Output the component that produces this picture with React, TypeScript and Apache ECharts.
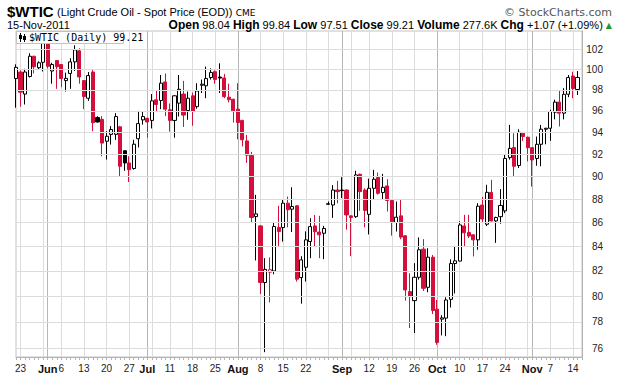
import { useEffect, useRef } from 'react';
import * as echarts from 'echarts';

// ---- categories: trading days (2011) ----
const tradingMonths = [5, 6, 7, 8, 9, 10, 11];
const tradingDays = [
  [20, 23, 24, 25, 26, 27, 31],
  [1, 2, 3, 6, 7, 8, 9, 10, 13, 14, 15, 16, 17, 20, 21, 22, 23, 24, 27, 28, 29, 30],
  [1, 5, 6, 7, 8, 11, 12, 13, 14, 15, 18, 19, 20, 21, 22, 25, 26, 27, 28, 29],
  [1, 2, 3, 4, 5, 8, 9, 10, 11, 12, 15, 16, 17, 18, 19, 22, 23, 24, 25, 26, 29, 30, 31],
  [1, 2, 6, 7, 8, 9, 12, 13, 14, 15, 16, 19, 20, 21, 22, 23, 26, 27, 28, 29, 30],
  [3, 4, 5, 6, 7, 10, 11, 12, 13, 14, 17, 18, 19, 20, 21, 24, 25, 26, 27, 28, 31],
  [1, 2, 3, 4, 7, 8, 9, 10, 11, 14, 15],
];
const dates: string[] = [];
tradingMonths.forEach((m, k) =>
  tradingDays[k].forEach((d) =>
    dates.push(`2011-${String(m).padStart(2, '0')}-${String(d).padStart(2, '0')}`)
  )
);

// ---- series values ----
const opens = [
  99.1, 99.74, 97.6, 99.3, 101.3, 100.16, 100.7, 102.7, 99.84, 100.87,
  100.48, 98.9, 99.6, 100.74, 101.84, 98.9, 97.2, 99.74, 95.37, 95.2,
  93.17, 93.8, 93.8, 94.5, 92.3, 91.2, 90.7, 93.4, 95.15, 95.3,
  95.1, 97.05, 96.98, 98.77, 96.1, 95.1, 96.73, 97.6, 96.03, 97.43,
  96.4, 98.45, 98.4, 99.2, 99.77, 99.25, 99.16, 97.3, 97.1, 96.16,
  95.1, 93.2, 91.9, 86.51, 85.72, 81.07, 81.9, 82.0, 85.58, 85.58,
  87.66, 87.14, 87.43, 81.47, 82.3, 84.41, 85.72, 85.2, 85.1, 87.6,
  87.5, 88.8, 88.8, 88.8, 86.57, 86.5, 90.19, 88.8, 86.7, 88.95,
  89.9, 88.58, 89.16, 87.89, 86.0, 86.57, 84.89, 80.35, 79.64, 81.49,
  83.78, 80.69, 83.12, 78.97, 78.2, 78.28, 79.74, 82.6, 82.8, 85.71,
  85.17, 84.97, 84.55, 87.5, 85.86, 88.59, 86.14, 86.5, 87.0, 91.68,
  92.6, 90.97, 93.9, 93.54, 92.58, 91.6, 92.89, 94.28, 94.37, 95.87,
  96.83, 95.78, 97.58, 99.35, 98.04,
];
const highs = [
  100.5, 99.9, 100.06, 101.6, 101.35, 100.8, 102.8, 102.75, 100.65, 100.9,
  100.5, 99.68, 101.1, 102.4, 102.1, 98.95, 99.74, 100.0, 95.5, 95.5,
  94.1, 94.57, 95.78, 94.6, 92.35, 91.8, 93.3, 96.0, 95.9, 95.35,
  97.6, 97.9, 99.45, 99.6, 96.7, 97.5, 99.45, 98.87, 97.84, 97.74,
  98.65, 99.0, 100.27, 100.1, 99.9, 100.6, 99.55, 98.6, 97.15, 98.65,
  95.15, 93.75, 92.2, 88.38, 85.8, 83.04, 83.1, 86.0, 87.43, 88.0,
  88.23, 89.04, 87.5, 83.2, 85.26, 86.37, 86.65, 86.57, 85.72, 87.8,
  89.23, 89.6, 89.93, 88.85, 86.6, 90.5, 90.25, 88.95, 89.8, 90.58,
  90.34, 90.22, 89.75, 87.95, 87.8, 88.0, 84.95, 81.81, 82.63, 84.75,
  84.61, 83.86, 83.3, 79.69, 78.5, 79.9, 82.94, 84.05, 86.1, 86.66,
  86.66, 85.0, 87.66, 88.2, 89.26, 89.7, 86.5, 88.88, 91.97, 94.68,
  93.9, 94.28, 93.95, 93.6, 92.6, 93.6, 94.68, 94.4, 96.1, 97.06,
  97.9, 98.16, 99.45, 99.77, 99.84,
];
const lows = [
  96.3, 96.4, 96.6, 99.2, 99.6, 100.0, 99.8, 100.1, 98.6, 98.1,
  98.25, 97.84, 98.1, 99.84, 98.6, 96.16, 96.95, 94.1, 94.9, 91.8,
  91.5, 92.86, 93.3, 90.0, 90.5, 89.5, 90.6, 92.6, 94.7, 93.5,
  94.35, 95.9, 96.16, 95.5, 94.06, 93.5, 95.47, 94.5, 95.16, 94.6,
  96.2, 97.7, 97.2, 99.0, 98.6, 97.7, 97.2, 96.8, 94.9, 93.35,
  92.7, 91.2, 86.0, 82.85, 80.16, 75.7, 79.5, 81.73, 84.0, 84.4,
  85.6, 85.2, 81.15, 79.4, 81.15, 83.04, 84.0, 83.04, 82.96, 87.5,
  86.4, 87.65, 88.1, 85.4, 83.2, 86.4, 87.0, 85.6, 85.0, 88.0,
  88.4, 87.94, 86.94, 84.9, 85.25, 84.6, 79.64, 77.52, 77.14, 81.3,
  80.4, 80.3, 78.6, 76.25, 76.96, 76.9, 79.1, 80.2, 82.8, 84.0,
  84.7, 83.18, 83.73, 86.0, 85.7, 86.1, 84.3, 85.9, 86.8, 91.5,
  90.0, 90.75, 93.2, 91.34, 89.1, 90.95, 90.9, 92.89, 93.2, 95.2,
  94.53, 95.2, 97.3, 97.2, 97.51,
];
const closes = [
  100.2, 97.78, 99.74, 101.3, 100.26, 100.65, 102.7, 100.3, 100.48, 100.26,
  99.1, 99.12, 100.74, 101.94, 99.26, 97.36, 99.39, 94.89, 94.95, 93.0,
  93.63, 94.25, 95.46, 90.9, 91.2, 90.6, 92.9, 94.8, 95.46, 94.95,
  96.95, 96.6, 98.65, 96.16, 95.1, 97.43, 98.06, 95.6, 97.2, 95.94,
  97.9, 98.55, 99.1, 99.7, 99.0, 99.15, 97.35, 97.06, 96.0, 94.9,
  93.3, 91.9, 86.43, 86.74, 81.07, 82.13, 82.1, 85.67, 85.25, 87.66,
  87.09, 87.37, 81.34, 82.9, 84.55, 85.66, 85.23, 84.97, 85.5, 87.57,
  88.8, 88.66, 88.75, 86.65, 86.43, 90.13, 88.66, 87.03, 88.95, 89.75,
  88.52, 89.04, 87.89, 86.09, 86.46, 84.78, 80.48, 79.95, 81.49, 83.73,
  80.61, 83.12, 78.87, 76.43, 78.3, 79.69, 82.6, 82.82, 85.8, 85.14,
  84.87, 84.55, 87.4, 86.3, 88.6, 86.14, 86.43, 87.46, 91.6, 92.52,
  90.9, 94.0, 93.6, 92.58, 91.47, 92.89, 94.28, 94.37, 95.94, 96.83,
  95.78, 97.58, 99.2, 98.14, 99.21,
];

// ---- tick labels ----
const yTicks = [76, 78, 80, 82, 84, 86, 88, 90, 92, 94, 96, 98, 100, 102];
const xTickDates = [
  '2011-05-23', '2011-06-01', '2011-06-06', '2011-06-13', '2011-06-20', '2011-06-27',
  '2011-07-01', '2011-07-11', '2011-07-18', '2011-07-25', '2011-08-01', '2011-08-08',
  '2011-08-15', '2011-08-22', '2011-09-01', '2011-09-12', '2011-09-19', '2011-09-26',
  '2011-10-03', '2011-10-10', '2011-10-17', '2011-10-24', '2011-11-01', '2011-11-07',
  '2011-11-14',
];
const xTickTexts = [
  '23', 'Jun', '6', '13', '20', '27', 'Jul', '11', '18', '25', 'Aug', '8',
  '15', '22', 'Sep', '12', '19', '26', 'Oct', '10', '17', '24', 'Nov', '7', '14',
];
const monthNames = ['Jun', 'Jul', 'Aug', 'Sep', 'Oct', 'Nov'];

const RED = '#d3103b';
const BLACK = '#000000';
const SANS = "'Liberation Sans', Arial, sans-serif";

export default function App() {
  const ref = useRef<HTMLDivElement>(null);

  useEffect(() => {
    const el = ref.current;
    if (!el) return;
    const chart = echarts.init(el, undefined, { renderer: 'svg' });

    const parsed = dates.map((s) => new Date(s + 'T00:00:00Z'));
    const weekStart = dates.map(
      (_, i) =>
        i > 0 &&
        (parsed[i].getUTCDay() < parsed[i - 1].getUTCDay() ||
          parsed[i].getTime() - parsed[i - 1].getTime() >= 7 * 864e5)
    );
    const monthStart = dates.map(
      (_, i) => i > 0 && parsed[i].getUTCMonth() !== parsed[i - 1].getUTCMonth()
    );
    const cats = [...dates, ''];
    const labelAt = new Map<number, string>();
    xTickDates.forEach((d, k) => labelAt.set(dates.indexOf(d), xTickTexts[k]));

    const items = dates.map((_, i) => {
      const o = opens[i];
      const c = closes[i];
      const pc = i > 0 ? closes[i - 1] : o;
      const col = c < pc ? RED : BLACK;
      const fill = c > o ? '#ffffff' : col;
      return {
        value: [o, c, lows[i], highs[i]],
        itemStyle: {
          color: fill,
          color0: fill,
          borderColor: col,
          borderColor0: col,
          borderColorDoji: col,
        },
      };
    });

    const option: any = {
      animation: false,
      backgroundColor: '#ffffff',
      grid: {
        left: 16,
        top: 31,
        width: 566,
        height: 326,
        show: true,
        borderColor: '#c2c2c2',
        borderWidth: 1,
        containLabel: false,
      },
      xAxis: [
        {
          type: 'category',
          data: cats,
          boundaryGap: false,
          position: 'bottom',
          axisLine: { show: true, lineStyle: { color: '#b4b4b4' } },
          axisTick: { show: true, interval: 0, length: 3, lineStyle: { color: '#b4b4b4' } },
          axisLabel: {
            interval: (i: number) => labelAt.has(i),
            formatter: (_v: string, i: number) => {
              const t = labelAt.get(i) || '';
              return monthNames.includes(t) ? `{m|${t}}` : t;
            },
            color: '#222',
            fontSize: 10,
            fontFamily: SANS,
            margin: 6,
            hideOverlap: false,
            rich: {
              m: { fontWeight: 'bold', fontSize: 11, color: '#111', fontFamily: SANS },
            },
          },
          splitLine: {
            show: true,
            interval: (i: number) => !!weekStart[i],
            lineStyle: { color: '#dcdcdc', width: 1 },
          },
        },
        {
          type: 'category',
          data: cats,
          boundaryGap: false,
          axisLine: { show: false },
          axisTick: { show: false },
          axisLabel: { show: false },
          splitLine: {
            show: true,
            interval: (i: number) => !!monthStart[i],
            lineStyle: { color: '#b6b6b6', width: 1 },
          },
        },
      ],
      yAxis: {
        type: 'log',
        logBase: 10,
        min: 75.34,
        max: 103.85,
        position: 'right',
        axisLine: { show: true, lineStyle: { color: '#b4b4b4' } },
        axisTick: { show: false },
        axisLabel: { show: false },
        splitLine: { show: false },
      },
      series: [
        {
          type: 'line',
          data: [],
          z: 1,
          silent: true,
          markLine: {
            silent: true,
            symbol: ['none', 'none'],
            animation: false,
            lineStyle: { color: '#dcdcdc', width: 1, type: 'solid' },
            label: {
              show: true,
              position: 'end',
              formatter: (p: any) => String(p.value),
              color: '#222',
              fontSize: 10,
              fontFamily: SANS,
              align: 'right',
              distance: 21,
            },
            emphasis: { disabled: true },
            data: yTicks.map((v) => ({ yAxis: v })),
          },
        },
        {
          type: 'candlestick',
          data: items,
          z: 3,
          barWidth: 3.6,
          clip: true,
          silent: true,
          itemStyle: { borderWidth: 1 },
          emphasis: { disabled: true },
        },
      ],
      graphic: [
        {
          type: 'text',
          x: 7,
          y: 11,
          z: 100,
          style: {
            text: '{a|$WTIC} {b|(Light Crude Oil - Spot Price (EOD))} {c|CME}',
            verticalAlign: 'middle',
            rich: {
              a: { font: `bold 15px ${SANS}`, fill: '#000', verticalAlign: 'bottom' },
              b: { font: `11px ${SANS}`, fill: '#000', verticalAlign: 'bottom', padding: [0, 0, 1, 0] },
              c: { font: "9px 'DejaVu Sans', sans-serif", fill: '#000', verticalAlign: 'bottom', padding: [0, 0, 1, 0] },
            },
          },
        },
        {
          type: 'text',
          x: 612,
          y: 12,
          z: 100,
          style: {
            text: '© StockCharts.com',
            font: `11px 'DejaVu Sans', sans-serif`,
            fill: '#555',
            align: 'right',
            verticalAlign: 'middle',
          },
        },
        {
          type: 'text',
          x: 7,
          y: 25,
          z: 100,
          style: {
            text: '15-Nov-2011',
            font: `11px ${SANS}`,
            fill: '#000',
            verticalAlign: 'middle',
          },
        },
        {
          type: 'text',
          x: 612,
          y: 25,
          z: 100,
          style: {
            text:
              '{b|Open} 98.04 {b|High} 99.84 {b|Low} 97.51 {b|Close} 99.21 {b|Volume} 277.6K {b|Chg} +1.07 (+1.09%) {g|▲}',
            font: `11px ${SANS}`,
            fill: '#000',
            align: 'right',
            verticalAlign: 'middle',
            rich: {
              b: { font: `bold 12px ${SANS}`, fill: '#000', verticalAlign: 'bottom' },
              g: { font: "8px 'DejaVu Sans', sans-serif", fill: '#1d9a2a', verticalAlign: 'bottom', padding: [0, 0, 2, 0] },
            },
          },
        },
        {
          type: 'rect',
          z: 100,
          shape: { x: 16.5, y: 31.5, width: 107, height: 12 },
          style: { fill: '#ffffff', stroke: '#c2c2c2', lineWidth: 1 },
        },
        {
          type: 'line',
          z: 101,
          shape: { x1: 20.5, y1: 33, x2: 20.5, y2: 42 },
          style: { stroke: '#000', lineWidth: 1 },
        },
        {
          type: 'rect',
          z: 101,
          shape: { x: 19, y: 35, width: 3, height: 4 },
          style: { fill: '#000' },
        },
        {
          type: 'line',
          z: 101,
          shape: { x1: 24.5, y1: 34, x2: 24.5, y2: 42 },
          style: { stroke: '#000', lineWidth: 1 },
        },
        {
          type: 'rect',
          z: 101,
          shape: { x: 23, y: 36, width: 3, height: 4 },
          style: { fill: '#000' },
        },
        {
          type: 'text',
          x: 29,
          y: 37.5,
          z: 101,
          style: {
            text: '$WTIC (Daily) 99.21',
            font: "10px 'DejaVu Sans Mono', monospace",
            fill: '#000',
            verticalAlign: 'middle',
          },
        },
      ],
    };

    chart.setOption(option);
    return () => chart.dispose();
  }, []);

  return (
    <div
      ref={ref}
      style={{
        position: 'fixed',
        left: 0,
        top: 0,
        width: 620,
        height: 376,
        background: '#fff',
      }}
    />
  );
}
